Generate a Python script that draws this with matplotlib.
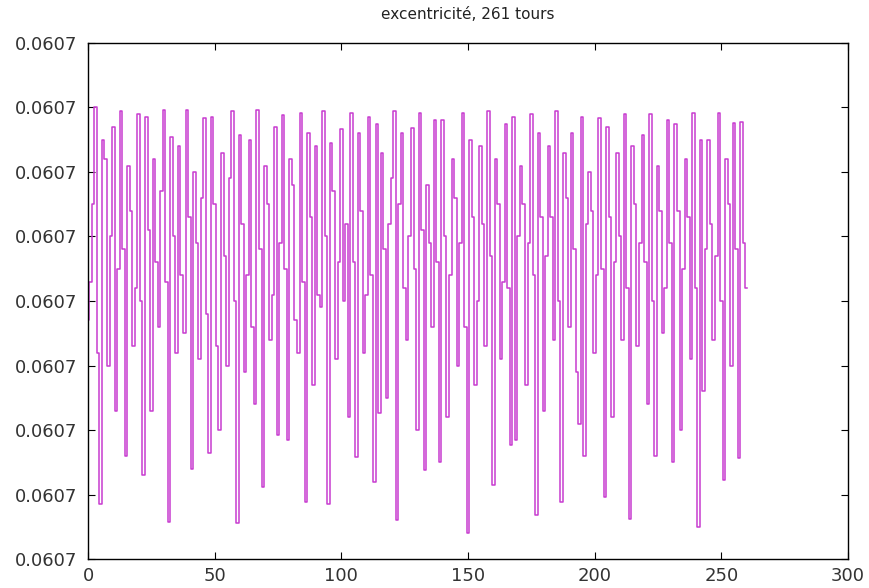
import numpy as np
import matplotlib
matplotlib.use('Agg')
import matplotlib.pyplot as plt

# eccentricity per turn, stored as offset from 0.0607 in units of 1e-9
e0 = 0.0607
tours = np.arange(0, 261)
offset = [
    3.7, 4.3, 5.5, 7.0, 3.2, 0.85, 6.5, 6.2, 3.0, 5.0,
    6.7, 2.3, 4.5, 6.95, 4.8, 1.6, 6.1, 5.4, 3.3, 4.2,
    6.9, 4.0, 1.3, 6.85, 5.1, 2.3, 6.2, 4.6, 3.6, 5.7,
    6.96, 4.3, 0.58, 6.55, 5.0, 3.2, 6.4, 4.4, 3.5, 6.96,
    5.3, 1.4, 6.0, 4.9, 3.1, 5.6, 6.83, 3.8, 1.64, 6.86,
    5.5, 3.3, 2.0, 6.3, 4.7, 3.0, 5.9, 6.94, 4.0, 0.56,
    6.57, 5.2, 2.9, 4.4, 6.5, 3.6, 2.4, 6.96, 4.8, 1.12,
    6.1, 5.5, 3.4, 4.1, 6.7, 1.92, 4.9, 6.89, 4.5, 1.84,
    6.2, 5.8, 3.7, 3.2, 6.91, 4.3, 0.89, 6.6, 5.3, 2.7,
    6.4, 4.1, 3.9, 6.94, 5.0, 0.86, 6.45, 5.7, 3.1, 4.6,
    6.67, 4.0, 5.2, 2.2, 6.91, 4.6, 1.58, 6.6, 5.4, 3.2,
    4.1, 6.86, 4.4, 1.2, 6.75, 2.26, 6.3, 4.8, 2.5, 5.2,
    5.9, 6.94, 0.6, 5.5, 6.6, 4.2, 3.4, 5.0, 6.68, 4.5,
    2.0, 6.91, 5.1, 1.38, 5.8, 4.9, 3.6, 6.8, 4.6, 1.5,
    6.8, 5.0, 2.2, 4.4, 6.2, 5.6, 3.0, 4.9, 6.91, 3.6,
    0.4, 6.5, 5.3, 2.7, 4.0, 6.4, 5.2, 3.3, 6.94, 4.7,
    1.15, 6.2, 5.5, 3.1, 4.3, 6.75, 4.2, 1.77, 6.85, 1.85,
    5.0, 6.1, 5.5, 2.7, 4.9, 6.9, 4.4, 0.68, 6.6, 5.3,
    2.3, 4.7, 6.4, 5.3, 3.4, 6.94, 4.0, 0.88, 6.3, 5.6,
    3.6, 6.6, 4.8, 2.9, 2.1, 6.86, 1.6, 5.2, 6.0, 5.4,
    3.2, 4.4, 6.84, 4.5, 0.96, 6.7, 5.3, 2.2, 4.6, 6.3,
    5.0, 3.4, 6.9, 4.2, 0.62, 6.4, 5.5, 3.3, 4.9, 6.57,
    4.6, 2.4, 6.9, 4.0, 1.6, 6.1, 5.4, 3.5, 4.2, 6.8,
    4.9, 1.5, 6.75, 5.4, 2.0, 4.5, 6.2, 5.3, 3.1, 6.91,
    4.2, 0.5, 6.5, 2.6, 4.8, 6.5, 5.2, 3.4, 4.7, 6.91,
    4.0, 1.22, 6.2, 5.5, 3.0, 6.76, 4.8, 1.56, 6.78, 4.9,
    4.2,
]
ecc = e0 + np.array(offset) * 1e-9
yticks = e0 + np.arange(0, 9) * 1e-9

plt.rcParams['font.family'] = ['DejaVu Sans']
fig = plt.figure(figsize=(8.69, 5.88), dpi=100)
ax = fig.add_axes([0.1013, 0.0493, 0.8745, 0.8776])
ax.plot(tours, ecc, color='#c83cd0', linewidth=1.1, drawstyle='steps-mid')

ax.set_xlim(0, 300)
ax.set_ylim(yticks[0], yticks[-1])
ax.set_xticks(np.arange(0, 301, 50))
ax.set_yticks(yticks)
ax.set_yticklabels(['%.4f' % v for v in yticks])
ax.tick_params(direction='in', length=5, top=True, right=True,
               labelsize=13, colors='black', labelcolor='#333333')
ax.tick_params(axis='x', pad=6)
ax.tick_params(axis='y', pad=8)
for s in ax.spines.values():
    s.set_linewidth(1.0)
ax.set_title('excentricité, 261 tours', fontsize=11, pad=17, color='#222222')

fig.savefig('out.png', dpi=100)
